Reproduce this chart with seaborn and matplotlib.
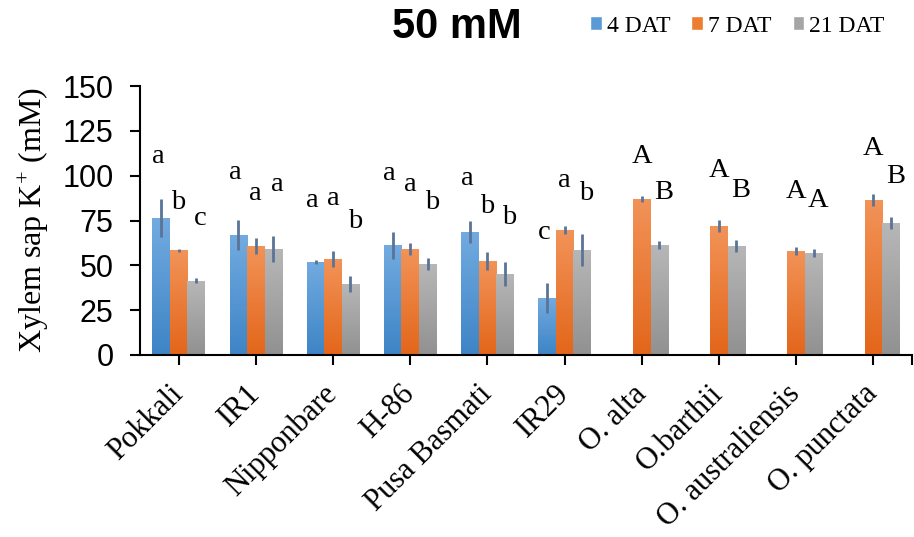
import numpy as np
import pandas as pd
import matplotlib
matplotlib.use("Agg")
import matplotlib.pyplot as plt
import seaborn as sns
from matplotlib.colors import LinearSegmentedColormap
from matplotlib.ticker import FixedLocator

nan = np.nan
categories = ["Pokkali", "IR1", "Nipponbare", "H-86", "Pusa Basmati", "IR29",
              "O. alta", "O.barthii", "O. australiensis", "O. punctata"]
series = ["4 DAT", "7 DAT", "21 DAT"]
dat4 = [76.4, 66.9, 51.9, 61.3, 68.6, 31.8, nan, nan, nan, nan]
dat7 = [58.5, 60.8, 53.5, 59.1, 52.4, 69.7, 87.0, 71.9, 58.0, 86.4]
dat21 = [41.3, 59.1, 39.6, 50.7, 45.2, 58.6, 61.3, 60.8, 56.9, 73.6]
err4 = [10.4, 8.3, 1.2, 7.5, 5.9, 8.2, nan, nan, nan, nan]
err7 = [0.8, 4.3, 4.4, 3.5, 4.9, 2.1, 1.9, 3.5, 2.1, 3.4]
err21 = [1.4, 7.5, 4.5, 3.3, 6.9, 8.9, 2.0, 3.5, 2.0, 3.3]
letters4 = ["a", "a", "a", "a", "a", "c", "", "", "", ""]
letters7 = ["b", "a", "a", "a", "b", "a", "A", "A", "A", "A"]
letters21 = ["c", "a", "b", "b", "b", "b", "B", "B", "A", "B"]
lety4 = [107.0, 98.1, 82.8, 97.4, 94.9, 64.6, nan, nan, nan, nan]
lety7 = [81.5, 86.6, 83.8, 91.2, 79.3, 93.6, 106.9, 99.4, 87.4, 111.6]
lety21 = [72.6, 91.2, 70.9, 81.5, 73.3, 86.3, 87.0, 88.3, 82.8, 95.8]
yticks = [0, 25, 50, 75, 100, 125, 150]

values = [dat4, dat7, dat21]
errors = [err4, err7, err21]
letters = [letters4, letters7, letters21]
lety = [lety4, lety7, lety21]

rows = []
for s, vals in zip(series, values):
    for c, v in zip(categories, vals):
        rows.append({"cultivar": c, "series": s, "value": v})
df = pd.DataFrame(rows)

sns.set_style("white")
plt.rcParams["text.color"] = "black"
plt.rcParams["axes.labelcolor"] = "black"
plt.rcParams["xtick.color"] = "black"
plt.rcParams["ytick.color"] = "black"
plt.rcParams["mathtext.fontset"] = "custom"
plt.rcParams["mathtext.rm"] = "Liberation Serif"
plt.rcParams["mathtext.it"] = "Liberation Serif:italic"

mid = ["#5B9BD5", "#ED7D31", "#A5A5A5"]
tops = ["#72ABE0", "#F29358", "#B7B7B7"]
bots = ["#3E84C6", "#E3661A", "#919191"]

fig = plt.figure(figsize=(9.14, 5.37), dpi=100)
ax = fig.add_axes([140 / 914, 1 - 355 / 537, (912 - 140) / 914, (355 - 86) / 537])

total_w = 0.68
sns.barplot(data=df, x="cultivar", y="value", hue="series", order=categories,
            hue_order=series, palette=mid, width=total_w, gap=0, errorbar=None,
            saturation=1, ax=ax, legend=True)

# gradient fill for each bar
bw = total_w / 3
for cont, top, bot in zip(ax.containers, tops, bots):
    cmap = LinearSegmentedColormap.from_list("g", [bot, top])
    grad = np.linspace(0, 1, 128).reshape(-1, 1)
    for p in cont.patches:
        h = p.get_height()
        if not np.isfinite(h) or h == 0:
            continue
        x0 = p.get_x()
        w = p.get_width()
        im = ax.imshow(grad, cmap=cmap, aspect="auto", origin="lower",
                       extent=[x0, x0 + w, 0, h], zorder=p.get_zorder() + 0.1,
                       interpolation="bilinear")
        im.set_clip_path(p)

xpos = np.arange(len(categories))
offsets = [-bw, 0, bw]
letter_shift = [-0.04, 0.0, 0.055]
for off, sh, vals, errs, labs, ly in zip(offsets, letter_shift, values, errors, letters, lety):
    xs = xpos + off
    vals_a = np.array(vals, float)
    errs_a = np.array(errs, float)
    m = np.isfinite(vals_a)
    ax.errorbar(xs[m], vals_a[m], yerr=errs_a[m], fmt="none", ecolor="#5A7396",
                elinewidth=2, capsize=0, zorder=5)
    for x, lab, yy in zip(xs + sh, labs, ly):
        if lab and np.isfinite(yy):
            ax.text(x, yy, lab, ha="center", va="baseline", fontsize=20.5,
                    family="Liberation Serif", color="black", zorder=6)

ax.set_xlim(-0.5, len(categories) - 0.5)
ax.set_ylim(0, 150)
ax.set_yticks(yticks)
ax.set_yticklabels([str(t) for t in yticks],
                   fontfamily=["Liberation Sans Narrow", "Liberation Sans"], fontsize=22)
ax.set_xticks(xpos)
ax.set_xticklabels(categories, rotation=45, ha="right", va="center",
                   rotation_mode="anchor", fontfamily="Liberation Serif", fontsize=22)
ax.xaxis.set_minor_locator(FixedLocator([len(categories) - 0.5]))
ax.tick_params(axis="x", which="major", direction="out", length=7, width=1.5,
               color="black", labelcolor="black", pad=18, bottom=True)
ax.tick_params(axis="x", which="minor", direction="out", length=7, width=1.5,
               color="black", bottom=True)
ax.tick_params(axis="y", direction="out", length=7, width=1.5, color="black",
               labelcolor="black", pad=12, left=True)
ax.set_xlabel("")
ax.set_ylabel(r"Xylem sap K$^{+}$ (mM)", fontfamily="Liberation Serif",
              fontsize=23, labelpad=8, color="black")
for s in ["top", "right"]:
    ax.spines[s].set_visible(False)
for s in ["left", "bottom"]:
    ax.spines[s].set_linewidth(1.5)
    ax.spines[s].set_color("black")
ax.grid(False)
ax.set_facecolor("white")

handles, labels = ax.get_legend_handles_labels()
ax.legend_.remove()
fig.legend(handles, labels, loc="center left",
           bbox_to_anchor=(590 / 914, 1 - 26 / 537), ncol=3, frameon=False,
           handlelength=0.5, handleheight=0.5, handletextpad=0.2,
           columnspacing=0.9, borderpad=0, borderaxespad=0,
           prop={"family": "Liberation Serif", "size": 17}, labelcolor="black")

fig.text(457 / 914, 1 - 27 / 537, "50 mM", ha="center", va="center",
         fontsize=30, fontweight="bold", family="Liberation Sans", color="black")

fig.savefig("out.png", dpi=100)
